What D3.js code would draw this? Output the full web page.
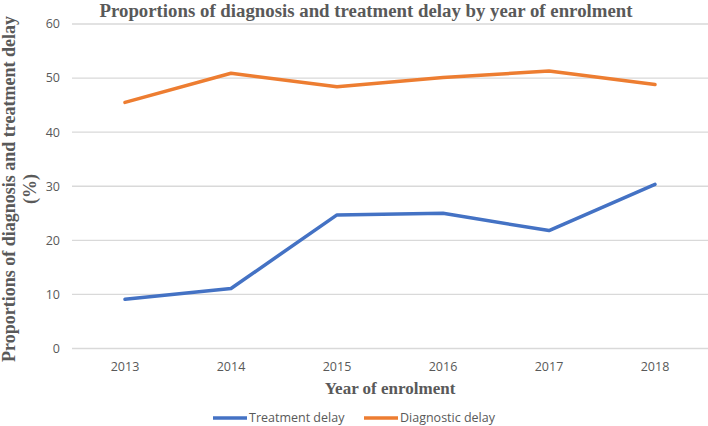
<!DOCTYPE html>
<html>
<head>
<meta charset="utf-8">
<script src="https://cdn.jsdelivr.net/npm/d3@7"></script>
<style>
  html, body { margin: 0; padding: 0; background: #fff; }
  svg { display: block; }
</style>
</head>
<body>
<svg id="chart" width="708" height="426"></svg>
<script>
const years = ["2013", "2014", "2015", "2016", "2017", "2018"];
const treatmentDelay = [9.1, 11.1, 24.7, 25.0, 21.8, 30.35];
const diagnosticDelay = [45.5, 50.9, 48.4, 50.1, 51.3, 48.8];
const yTicks = [0, 10, 20, 30, 40, 50, 60];
const seriesNames = ["Treatment delay", "Diagnostic delay"];
const seriesColors = ["#4472C4", "#ED7D31"];

const svg = d3.select("#chart");
const plotLeft = 72, plotRight = 708, plotTop = 24, plotBottom = 348.5;

const x = d3.scaleBand().domain(years).range([plotLeft, plotRight]);
const y = d3.scaleLinear().domain([0, 60]).range([plotBottom, plotTop]);

// gridlines
svg.append("g").selectAll("line").data(yTicks).join("line")
  .attr("x1", plotLeft).attr("x2", plotRight)
  .attr("y1", d => y(d)).attr("y2", d => y(d))
  .attr("stroke", "#d9d9d9").attr("stroke-width", 1.3);

// y tick labels
svg.append("g").selectAll("text").data(yTicks).join("text")
  .attr("x", 60).attr("y", d => y(d)).attr("dy", "0.35em")
  .attr("text-anchor", "end")
  .attr("font-family", "'Open Sans', sans-serif").attr("font-size", 12.5)
  .attr("fill", "#595959").text(d => d);

// x tick labels
svg.append("g").selectAll("text").data(years).join("text")
  .attr("x", d => x(d) + x.bandwidth() / 2).attr("y", 367).attr("dy", "0.35em")
  .attr("text-anchor", "middle")
  .attr("font-family", "'Open Sans', sans-serif").attr("font-size", 12.5)
  .attr("fill", "#595959").text(d => d);

// lines
const series = [treatmentDelay, diagnosticDelay];
const line = d3.line()
  .x((d, i) => x(years[i]) + x.bandwidth() / 2)
  .y(d => y(d));
svg.append("g").selectAll("path").data(series).join("path")
  .attr("d", d => line(d))
  .attr("fill", "none")
  .attr("stroke", (d, i) => seriesColors[i])
  .attr("stroke-width", 3.5)
  .attr("stroke-linejoin", "round")
  .attr("stroke-linecap", "round");

// title
svg.append("text")
  .attr("x", 366).attr("y", 17)
  .attr("text-anchor", "middle")
  .attr("font-family", "'Liberation Serif', serif").attr("font-weight", "bold")
  .attr("font-size", 18.5).attr("fill", "#595959")
  .attr("textLength", 533).attr("lengthAdjust", "spacingAndGlyphs")
  .text("Proportions of diagnosis and treatment delay by year of enrolment");

// x axis title
svg.append("text")
  .attr("x", (plotLeft + plotRight) / 2).attr("y", 394)
  .attr("text-anchor", "middle")
  .attr("font-family", "'Liberation Serif', serif").attr("font-weight", "bold")
  .attr("font-size", 17).attr("fill", "#595959")
  .text("Year of enrolment");

// y axis title
const yt = svg.append("text")
  .attr("transform", "translate(0,189) rotate(-90)")
  .attr("text-anchor", "middle")
  .attr("font-family", "'Liberation Serif', serif").attr("font-weight", "bold")
  .attr("font-size", 18).attr("fill", "#595959");
yt.append("tspan").attr("x", 0).attr("y", 15).text("Proportions of diagnosis and treatment delay");
yt.append("tspan").attr("x", 0).attr("y", 36).text("(%)");

// legend
const legendX = [213, 364];
const lg = svg.append("g").selectAll("g").data(seriesNames).join("g")
  .attr("transform", (d, i) => `translate(${legendX[i]},418)`);
lg.append("line").attr("x1", 0).attr("x2", 34).attr("y1", 0).attr("y2", 0)
  .attr("stroke", (d, i) => seriesColors[i]).attr("stroke-width", 3.5);
lg.append("text").attr("x", 36).attr("y", 0).attr("dy", "0.35em")
  .attr("font-family", "'Open Sans', sans-serif").attr("font-size", 12.5)
  .attr("fill", "#595959").text(d => d);
</script>
</body>
</html>
